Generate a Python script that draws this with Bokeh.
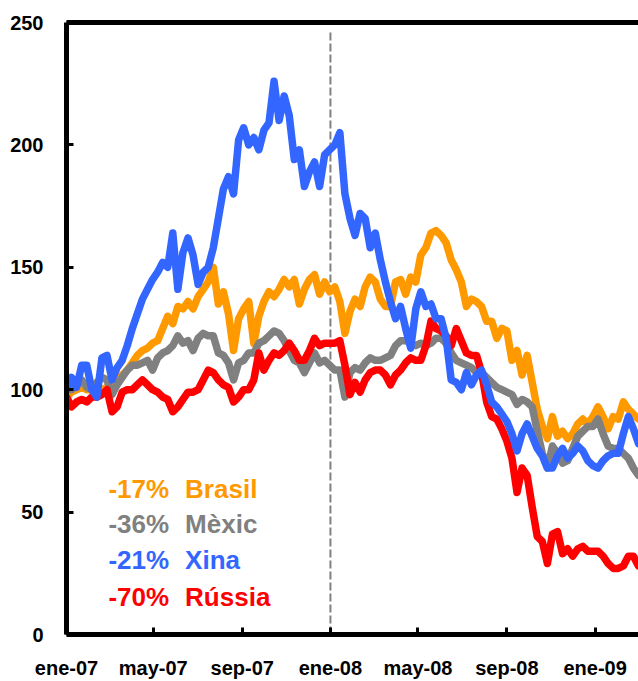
import pandas as pd
from bokeh.plotting import figure
from bokeh.models import Range1d, FixedTicker, CustomJSTickFormatter, Label, LinearAxis
from bokeh.embed import file_html
from bokeh.resources import INLINE

# weekly observations, index base 100 = start of 2007
dates = pd.date_range("2007-01-01", periods=114, freq="7D")

xina = [100, 105, 101, 110, 110, 100, 97, 113, 114, 104,
        109, 112, 118, 125, 131, 137, 141, 145, 148, 152,
        150, 164, 141, 156, 162, 155, 143, 148, 150, 158,
        170, 182, 187, 180, 202, 207, 200, 203, 198, 206,
        209, 226, 210, 220, 212, 194, 198, 183, 189, 193,
        183, 196, 198, 200, 205, 180, 170, 163, 172, 170,
        158, 164, 153, 144, 136, 129, 134, 125, 117, 133,
        140, 134, 135, 129, 129, 121, 104, 103, 100, 107,
        102, 106, 108, 102, 95, 93, 90, 87, 82, 75,
        82, 86, 81, 76, 73, 68, 68, 73, 76, 72,
        74, 77, 75, 71, 69, 68, 71, 73, 74, 74,
        82, 89, 84, 78]

brasil = [97, 99, 100, 101, 100, 100, 99, 100, 101, 102,
          104, 106, 108, 111, 114, 116, 117, 119, 120, 125,
          130, 127, 134, 133, 136, 133, 138, 141, 144, 150,
          135, 140, 131, 116, 129, 133, 136, 119, 130, 136,
          140, 138, 141, 145, 142, 145, 135, 141, 145, 147,
          139, 144, 140, 142, 136, 123, 132, 137, 134, 142,
          146, 144, 137, 134, 134, 144, 145, 139, 146, 144,
          155, 158, 164, 165, 163, 160, 153, 149, 144, 134,
          137, 136, 134, 128, 128, 121, 125, 124, 112, 116,
          106, 114, 103, 92, 85, 80, 89, 81, 83, 80,
          82, 86, 88, 86, 89, 93, 89, 84, 89, 88,
          95, 92, 90, 88]

mexic = [100, 100, 102, 104, 101, 100, 103, 105, 104, 98,
         102, 105, 108, 110, 110, 111, 112, 108, 113, 115,
         116, 118, 122, 119, 120, 116, 121, 123, 122, 122,
         115, 114, 111, 104, 111, 112, 115, 115, 119, 120,
         122, 124, 123, 120, 116, 112, 111, 107, 111, 115,
         111, 112, 110, 108, 108, 97, 107, 109, 108, 111,
         113, 112, 112, 113, 114, 118, 120, 120, 119, 118,
         119, 118, 119, 121, 121, 119, 115, 112, 111, 110,
         109, 107, 107, 105, 103, 101, 100, 99, 98, 94,
         96, 95, 93, 83, 74, 68, 77, 74, 70, 71,
         76, 81, 83, 85, 85, 88, 82, 77, 76, 76,
         74, 72, 68, 65]

russia = [97, 93, 95, 96, 95, 97, 97, 98, 100, 91,
          93, 99, 100, 100, 102, 104, 102, 100, 99, 97,
          96, 91, 93, 96, 99, 99, 100, 104, 108, 107,
          104, 102, 101, 95, 97, 100, 100, 104, 115, 108,
          112, 115, 114, 116, 119, 116, 112, 112, 116, 121,
          118, 119, 119, 119, 120, 110, 98, 103, 99, 104,
          107, 108, 108, 106, 102, 106, 108, 111, 113, 112,
          112, 118, 128, 125, 124, 122, 118, 125, 120, 115,
          114, 114, 107, 95, 89, 88, 84, 79, 72, 58,
          68, 65, 52, 40, 38, 29, 41, 42, 33, 35,
          32, 35, 36, 34, 34, 34, 32, 29, 27, 27,
          28, 32, 32, 28]

series_names = ["Brasil", "Mèxic", "Rússia", "Xina"]
series_values = [brasil, mexic, russia, xina]
series_colors = ["#FF9900", "#808080", "#FF0000", "#3366FF"]

legend_pct = ["-17%", "-36%", "-21%", "-70%"]
legend_names = ["Brasil", "Mèxic", "Xina", "Rússia"]
legend_colors = ["#FF9900", "#808080", "#3366FF", "#FF0000"]

tick_dates = ["2007-01-01", "2007-05-01", "2007-09-01", "2008-01-01",
              "2008-05-01", "2008-09-01", "2009-01-01"]
y_ticks = [0, 50, 100, 150, 200, 250]
marker_date = "2008-01-01"
marker_top = 247

def ms(d):
    return pd.Timestamp(d).value // 10**6

FONT = "Liberation Sans"

p = figure(width=638, height=681, x_axis_type="datetime",
           output_backend="svg", toolbar_location=None,
           x_range=Range1d(ms("2007-01-01"), ms("2009-03-02")),
           y_range=Range1d(0, 250),
           min_border_left=66, min_border_right=0,
           min_border_top=22, min_border_bottom=46)
p.xgrid.visible = False
p.ygrid.visible = False
p.outline_line_color = None
p.background_fill_color = "white"
p.border_fill_color = "white"

# x axis
xa = p.xaxis[0]
xa.ticker = FixedTicker(ticks=[ms(d) for d in tick_dates], minor_ticks=[])
xa.formatter = CustomJSTickFormatter(code="""
const m = ['ene','feb','mar','abr','may','jun','jul','ago','sep','oct','nov','dic'];
const d = new Date(tick);
return m[d.getUTCMonth()] + '-' + String(d.getUTCFullYear()).slice(2);
""")
ya = p.yaxis[0]
ya.ticker = FixedTicker(ticks=y_ticks, minor_ticks=[])

for ax in (xa, ya):
    ax.axis_line_width = 5
    ax.axis_line_color = "black"
    ax.major_tick_in = 7
    ax.major_tick_out = 0
    ax.major_tick_line_width = 3
    ax.major_tick_line_color = "black"
    ax.minor_tick_line_color = None
    ax.major_label_text_font = FONT
    ax.major_label_text_font_style = "bold"
    ax.major_label_text_font_size = "20px"
    ax.major_label_text_color = "black"
xa.major_label_standoff = 22
ya.major_label_standoff = 23

top = LinearAxis(ticker=FixedTicker(ticks=[], minor_ticks=[]),
                 axis_line_width=5, axis_line_color="black",
                 major_tick_in=0, major_tick_out=0, major_label_standoff=0,
                 major_label_text_font_size="0px")
p.add_layout(top, "above")

p.segment(x0=[ms(marker_date)], y0=[0], x1=[ms(marker_date)], y1=[marker_top],
          line_color="#808080", line_width=2, line_dash="8 3")

for vals, col in zip(series_values, series_colors):
    p.line(dates, vals, line_color=col, line_width=7.5,
           line_join="round", line_cap="round")

pct_x = ms("2007-02-28")
name_x = ms("2007-06-14")
row_y = [59.6, 45.3, 30.5, 15.3]
for pct, name, col, yy in zip(legend_pct, legend_names, legend_colors, row_y):
    for tx, xx in ((pct, pct_x), (name, name_x)):
        p.add_layout(Label(x=xx, y=yy, text=tx, text_color=col,
                           text_font=FONT, text_font_style="bold",
                           text_font_size="26px", text_baseline="alphabetic",
                           text_align="left"))

open("out.html", "w").write(file_html(p, INLINE))
